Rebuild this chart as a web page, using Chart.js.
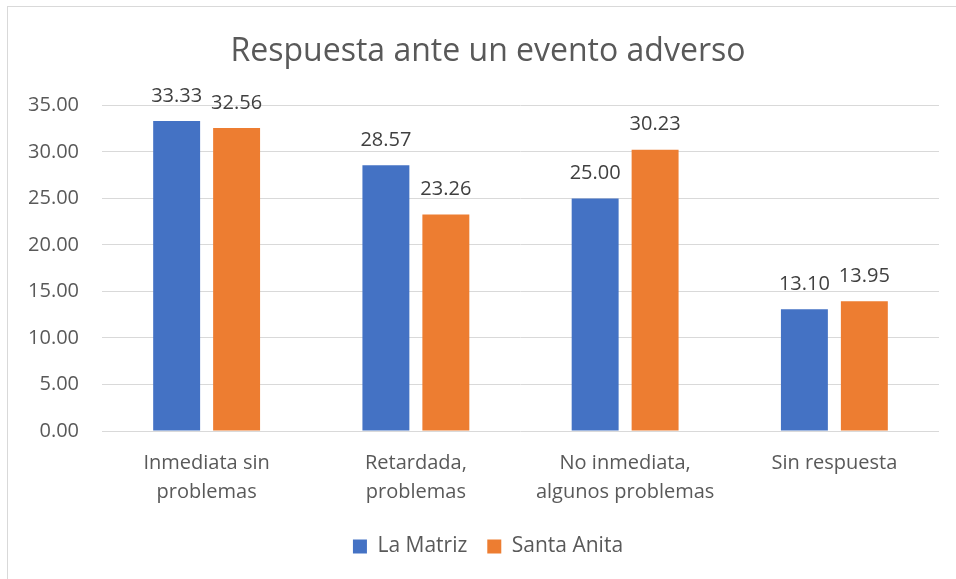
<!DOCTYPE html>
<html>
<head>
<meta charset="utf-8">
<script src="https://cdn.jsdelivr.net/npm/chart.js@4"></script>
<style>
  html, body { margin: 0; padding: 0; background: #fff; overflow: hidden; width: 956px; height: 579px; }
  #frame { position: absolute; left: 7px; top: 6px; width: 962px; height: 600px;
           border-left: 1px solid #d9d9d9; border-top: 1px solid #d9d9d9; }
  canvas { display: block; }
</style>
</head>
<body>
<div id="frame"><canvas id="myChart" width="960" height="572"></canvas></div>
<script>
// categories and values
const categories = [
  ['Inmediata sin', 'problemas'],
  ['Retardada,', 'problemas'],
  ['No inmediata,', 'algunos problemas'],
  ['Sin respuesta']
];
const laMatriz = [33.33, 28.57, 25.00, 13.10];
const santaAnita = [32.56, 23.26, 30.23, 13.95];
const seriesNames = ['La Matriz', 'Santa Anita'];
const chartTitle = 'Respuesta ante un evento adverso';

const FONT = "'Open Sans', sans-serif";

//* small plugin to write the value above each bar (no datalabels plugin offline)
const barLabels = {
  id: 'barLabels',
  afterDatasetsDraw(chart) {
    const ctx = chart.ctx;
    ctx.save();
    ctx.font = '20px ' + FONT;
    ctx.fillStyle = '#404040';
    ctx.textAlign = 'center';
    ctx.textBaseline = 'middle';
    chart.data.datasets.forEach((ds, i) => {
      chart.getDatasetMeta(i).data.forEach((bar, j) => {
        ctx.fillText(ds.data[j].toFixed(2), bar.x, bar.y - 25);
      });
    });
    ctx.restore();
  }
};

function charting() {
  const dchart = document.getElementById('myChart');
  const config = {
    type: 'bar',
    data: {
      labels: categories,
      datasets: [{
        label: seriesNames[0],
        data: laMatriz,
        backgroundColor: '#4472C4',
        categoryPercentage: 0.573,
        barPercentage: 0.783
      }, {
        label: seriesNames[1],
        data: santaAnita,
        backgroundColor: '#ED7D31',
        categoryPercentage: 0.573,
        barPercentage: 0.783
      }]
    },
    options: {
      responsive: false,
      animation: false,
      layout: { padding: { left: 0, right: 0, top: 0, bottom: 12 } },
      plugins: {
        title: {
          display: true,
          text: chartTitle,
          color: '#595959',
          font: { family: FONT, size: 32, weight: 'normal' },
          padding: { top: 26, bottom: 34 }
        },
        legend: {
          position: 'bottom',
          labels: {
            color: '#595959',
            font: { family: FONT, size: 21 },
            boxWidth: 14,
            boxHeight: 14,
            padding: 20
          }
        },
        tooltip: { enabled: false }
      },
      scales: {
        x: {
          grid: { display: false },
          border: { display: false },
          ticks: {
            color: '#595959',
            font: { family: FONT, size: 20, lineHeight: 1.45 },
            padding: 10,
            maxRotation: 0
          },
          afterFit(scale) { scale.height = 85; }
        },
        y: {
          min: 0,
          max: 35,
          grid: { color: '#d9d9d9', drawTicks: false },
          border: { display: false },
          ticks: {
            stepSize: 5,
            color: '#595959',
            font: { family: FONT, size: 20 },
            padding: 23,
            callback: v => v.toFixed(2)
          },
          afterFit(scale) { scale.width = 94; }
        },
        //* empty right axis, only there to keep the margin right of the plot
        yPad: {
          position: 'right',
          grid: { display: false },
          border: { display: false },
          ticks: { display: false },
          afterFit(scale) { scale.width = 29; }
        }
      }
    },
    plugins: [barLabels]
  };
  const nChart = new Chart(dchart, config);
}
charting();
</script>
</body>
</html>
